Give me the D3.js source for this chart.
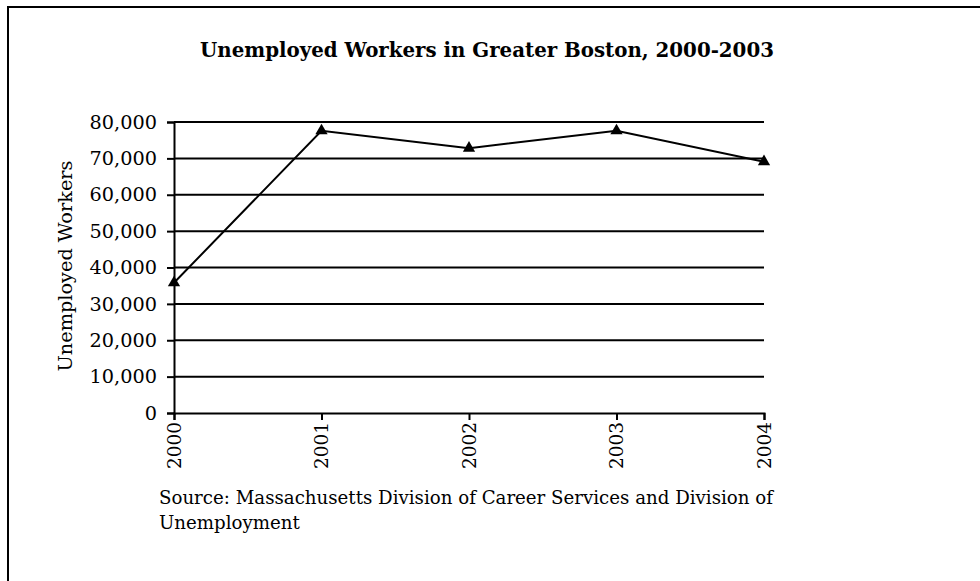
<!DOCTYPE html>
<html>
<head>
<meta charset="utf-8">
<script src="https://cdn.jsdelivr.net/npm/d3@7"></script>
<style>
  html, body { margin: 0; padding: 0; background: #fff; }
  svg { display: block; }
  text { font-family: "DejaVu Serif", "Liberation Serif", serif; fill: #000; }
</style>
</head>
<body>
<svg id="chart" width="980" height="581"></svg>
<script>
// Unemployed workers in Greater Boston by year
const years = ["2000", "2001", "2002", "2003", "2004"];
const unemployed = [35800, 77600, 72800, 77600, 69100];
const yTicks = [0, 10000, 20000, 30000, 40000, 50000, 60000, 70000, 80000];

const titleText = "Unemployed Workers in Greater Boston, 2000-2003";
const yAxisTitle = "Unemployed Workers";
const sourceLines = [
  "Source: Massachusetts Division of Career Services and Division of",
  "Unemployment"
];

const svg = d3.select("#chart");
const W = 980, H = 581;

// outer frame (runs off the right and bottom edges)
svg.append("rect")
  .attr("x", 8).attr("y", 7)
  .attr("width", W).attr("height", H)
  .attr("fill", "#fff")
  .attr("stroke", "#000")
  .attr("stroke-width", 2);

const plot = { left: 174, right: 764, top: 122, bottom: 413 };

const x = d3.scalePoint()
  .domain(years)
  .range([plot.left, plot.right]);

const y = d3.scaleLinear()
  .domain([0, 80000])
  .range([plot.bottom, plot.top]);

// horizontal gridlines
svg.append("g")
  .selectAll("line")
  .data(yTicks.filter(d => d > 0))
  .join("line")
  .attr("x1", plot.left)
  .attr("x2", plot.right)
  .attr("y1", d => y(d))
  .attr("y2", d => y(d))
  .attr("stroke", "#000")
  .attr("stroke-width", 2);

// y axis
const yAxis = svg.append("g")
  .attr("transform", `translate(${plot.left},0)`)
  .call(d3.axisLeft(y)
    .tickValues(yTicks)
    .tickSize(7)
    .tickPadding(10)
    .tickFormat(d3.format(",")));
yAxis.select(".domain").attr("stroke", "#000").attr("stroke-width", 2);
yAxis.selectAll(".tick line").attr("stroke", "#000").attr("stroke-width", 2);
yAxis.selectAll(".tick text")
  .attr("font-family", "DejaVu Serif")
  .attr("font-size", 19.3)
  .attr("fill", "#000");

// x axis
const xAxis = svg.append("g")
  .attr("transform", `translate(0,${plot.bottom})`)
  .call(d3.axisBottom(x).tickSize(7).tickPadding(8));
xAxis.select(".domain").attr("stroke", "#000").attr("stroke-width", 2);
xAxis.selectAll(".tick line").attr("stroke", "#000").attr("stroke-width", 2);
xAxis.selectAll(".tick text")
  .attr("font-family", "DejaVu Serif")
  .attr("font-size", 18.5)
  .attr("fill", "#000")
  .attr("transform", "rotate(-90)")
  .attr("text-anchor", "end")
  .attr("x", -9)
  .attr("y", 0)
  .attr("dy", "0.35em");

// series line
const line = d3.line()
  .x((d, i) => x(years[i]))
  .y(d => y(d));

svg.append("path")
  .datum(unemployed)
  .attr("d", line)
  .attr("fill", "none")
  .attr("stroke", "#000")
  .attr("stroke-width", 2);

// triangle markers
svg.append("g")
  .selectAll("path")
  .data(unemployed)
  .join("path")
  .attr("d", d3.symbol().type(d3.symbolTriangle).size(65))
  .attr("transform", (d, i) => `translate(${x(years[i])},${y(d)})`)
  .attr("fill", "#000");

// title
svg.append("text")
  .attr("x", 487)
  .attr("y", 57)
  .attr("text-anchor", "middle")
  .attr("font-size", 19.8)
  .attr("font-weight", "bold")
  .text(titleText);

// y axis title
svg.append("text")
  .attr("transform", `translate(72,266) rotate(-90)`)
  .attr("text-anchor", "middle")
  .attr("font-size", 19.3)
  .text(yAxisTitle);

// source note
svg.append("g")
  .selectAll("text")
  .data(sourceLines)
  .join("text")
  .attr("x", 159)
  .attr("y", (d, i) => 504 + i * 25)
  .attr("font-size", 18.2)
  .text(d => d);
</script>
</body>
</html>
